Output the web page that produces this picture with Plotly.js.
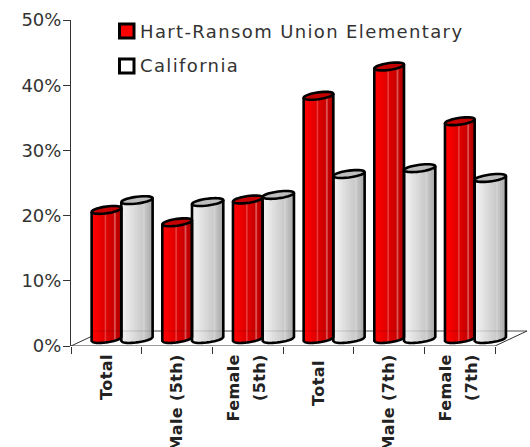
<!DOCTYPE html>
<html>
<head>
<meta charset="utf-8">
<script src="https://cdn.plot.ly/plotly-3.0.1.min.js"></script>
<style>
html,body{margin:0;padding:0;background:#fff;overflow:hidden}
.annotation-text{letter-spacing:1.37px}
.xtick text{letter-spacing:.4px}
</style>
</head>
<body>
<div id="chart" style="width:530px;height:447px"></div>
<script>
const categories = ["Total", "Male (5th)", "Female<br>(5th)", "Total ", "Male (7th)", "Female<br>(7th)"];
const seriesNames = ["Hart-Ransom Union Elementary", "California"];
const hartRansom = [19.8, 17.9, 21.4, 37.3, 41.8, 33.4];
const california = [21.3, 21.0, 22.1, 25.3, 26.2, 24.7];

const W = 530, H = 447, L = 71, R = 3, T = 20, B = 101;
const catPx = 70.67, valPx = 6.52;
const px2x = p => p / catPx, px2y = p => p / valPx;
const floorPx = 7;
const semiMinor = 3.4, tiltPx = 2;

const redRamp = ["#ff0000","#fc0000","#f80000","#f20000","#ec0000","#e60000","#e00000","#e83838","#da0000","#d60000","#d00000","#cc0000","#dc5050","#c40000","#bc0000","#a80000"];
const grayRamp = ["#f0f0f0","#eeeeee","#ebebeb","#e7e7e7","#e3e3e3","#dfdfdf","#dbdbdb","#d7d7d7","#d3d3d3","#cfcfcf","#cbcbcb","#d2d2d2","#c3c3c3","#bbbbbb","#b3b3b3","#a8a8a8"];

const bars = [
  {name: seriesNames[0], vals: hartRansom, x0: -14.7, x1: 15, ramp: redRamp, top: "#c40000", swatch: "#ff0000"},
  {name: seriesNames[1], vals: california, x0: 15, x1: 46.3, ramp: grayRamp, top: "#bdbdbd", swatch: "#ffffff"}
];

const traces = [], shapes = [];
const xEnd = 5.5 + px2x(32);

function floorLine(x0, y0, x1, y1, color, layer) {
  return {type: "line", xref: "x", yref: "y", x0: x0, y0: y0, x1: x1, y1: y1, layer: layer, line: {color: color, width: 1}};
}
const backY = px2y(15), backShift = px2x(32);
shapes.push(floorLine(-0.5, 0, -0.5 + backShift, backY, "#333333", "below"));
shapes.push(floorLine(-0.5 + backShift, backY, 5.5 + backShift, backY, "#666666", "below"));
shapes.push(floorLine(5.5, 0, 5.5 + backShift, backY, "#333333", "below"));
shapes.push(floorLine(-0.5, 0, 5.5, 0, "#333333", "below"));

bars.forEach(s => {
  const n = s.ramp.length;
  const w = (s.x1 - s.x0) / n;
  const mid = (s.x0 + s.x1) / 2;
  const order = s.ramp.map((c, k) => k).sort((a, b) => Math.abs(b + 0.5 - n / 2) - Math.abs(a + 0.5 - n / 2));
  order.forEach(k => {
    const u = (k + 0.5) / n * 2 - 1;
    const basePx = floorPx + tiltPx * u - semiMinor * Math.sqrt(1 - u * u);
    const start = k < n / 2 ? s.x0 + k * w : mid;
    const end = k < n / 2 ? mid : s.x0 + (k + 1) * w;
    traces.push({
      type: "bar", x: categories, y: s.vals.map(v => v + px2y(floorPx - basePx)),
      base: px2y(basePx), width: px2x(end - start), offset: px2x(start),
      marker: {color: s.ramp[k], line: {width: 0}}, showlegend: false, name: s.name, hoverinfo: "skip"
    });
  });
});

function ringPath(cx, cy, a) {
  let d = "";
  for (let i = 0; i <= 36; i++) {
    const t = i / 36 * 2 * Math.PI;
    const ux = Math.cos(t);
    const px = ux * a, py = ux * tiltPx + Math.sin(t) * semiMinor;
    d += (i ? "L" : "M") + (cx + px2x(px)).toFixed(4) + "," + (cy + px2y(py)).toFixed(3);
  }
  return d + "Z";
}
function outlinePath(cx, top, a) {
  const yb = px2y(floorPx);
  let d = "M" + (cx - px2x(a)).toFixed(4) + "," + (top - px2y(tiltPx)).toFixed(3);
  for (let i = 0; i <= 24; i++) {
    const u = -1 + i / 12;
    const py = tiltPx * u - semiMinor * Math.sqrt(Math.max(0, 1 - u * u));
    d += "L" + (cx + px2x(a * u)).toFixed(4) + "," + (yb + px2y(py)).toFixed(3);
  }
  return d + "L" + (cx + px2x(a)).toFixed(4) + "," + (top + px2y(tiltPx)).toFixed(3);
}
shapes.push({type: "line", xref: "x", yref: "y", x0: -0.2, x1: 5.5 + backShift, y0: backY, y1: backY,
             layer: "above", opacity: 0.14, line: {color: "#000000", width: 1}});
bars.forEach(s => {
  const a = (s.x1 - s.x0) / 2, c = px2x((s.x0 + s.x1) / 2);
  s.vals.forEach((v, i) => {
    const top = v + px2y(floorPx);
    shapes.push({type: "path", xref: "x", yref: "y", layer: "above", path: outlinePath(i + c, top, a),
                 line: {color: "#000000", width: 2.6}, fillcolor: "rgba(0,0,0,0)"});
    shapes.push({type: "path", xref: "x", yref: "y", layer: "above", path: ringPath(i + c, top, a),
                 line: {color: "#000000", width: 2.6}, fillcolor: s.top});
  });
});

const legendFont = {family: "DejaVu Sans, sans-serif", size: 18, color: "#333333"};
const annotations = [];
bars.forEach((s, i) => {
  const yc = 31 + i * 35;
  shapes.push({type: "rect", xref: "paper", yref: "paper", x0: (119.5 - L) / (W - L - R), x1: (134 - L) / (W - L - R),
               y0: (H - B - yc - 7) / (H - T - B), y1: (H - B - yc + 7) / (H - T - B),
               line: {color: "#000000", width: 3}, fillcolor: s.swatch, layer: "above"});
  annotations.push({xref: "paper", yref: "paper", x: (138 - L) / (W - L - R), y: (H - B - yc) / (H - T - B),
                    xanchor: "left", yanchor: "middle", showarrow: false, text: s.name, font: legendFont});
});

const layout = {
  width: W, height: H, autosize: false, showlegend: false, barmode: "overlay",
  margin: {l: L, r: R, t: T, b: B, pad: 0},
  paper_bgcolor: "#ffffff", plot_bgcolor: "rgba(0,0,0,0)",
  xaxis: {type: "category", categoryorder: "array", categoryarray: categories, range: [-0.5, xEnd],
          tickson: "boundaries", ticks: "outside", ticklen: 7, tickwidth: 1, tickcolor: "#333333",
          showline: false, showgrid: false, zeroline: false, tickangle: -90, ticklabelstandoff: 4,
          tickfont: {family: "DejaVu Sans, sans-serif", size: 16, weight: "bold", color: "#222222"}},
  yaxis: {range: [0, 50], tick0: 0, dtick: 10, ticksuffix: "%", ticks: "outside", ticklen: 7,
          tickwidth: 1, tickcolor: "#333333", showline: true, linecolor: "#333333", linewidth: 1,
          showgrid: false, zeroline: false, ticklabelstandoff: -2,
          tickfont: {family: "DejaVu Sans, sans-serif", size: 18, color: "#333333"}},
  shapes: shapes, annotations: annotations
};
Plotly.newPlot("chart", traces, layout, {displayModeBar: false, staticPlot: true}).then(() => {
  document.querySelectorAll(".xtick text").forEach(t => {
    const lines = t.querySelectorAll("tspan.line");
    if (lines.length === 2) {
      lines[0].setAttribute("dy", "-0.2em");
      lines[1].setAttribute("dy", "1.42em");
    }
  });
});
</script>
</body>
</html>
